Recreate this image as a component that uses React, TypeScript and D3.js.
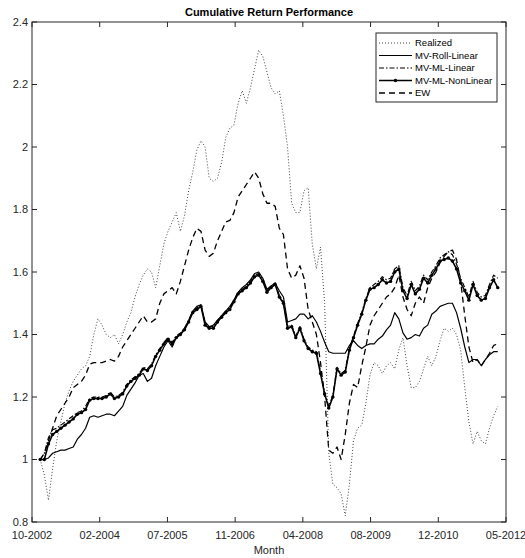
import React from 'react';
import * as d3 from 'd3';

// x axis: months after 10-2002 (0 .. 115 = 05-2012)
const xTickLabels = ['10-2002', '02-2004', '07-2005', '11-2006', '04-2008', '08-2009', '12-2010', '05-2012'];
const yTicks = [0.8, 1, 1.2, 1.4, 1.6, 1.8, 2, 2.2, 2.4];
const firstMonth = 2; // 12-2002
const lastAxisMonth = 115;

const realized = [
  1.0, 0.95, 0.87, 0.97, 1.06, 1.12, 1.18, 1.22, 1.25, 1.27,
  1.29, 1.3, 1.33, 1.4, 1.45, 1.43, 1.4, 1.39, 1.4, 1.37,
  1.4, 1.44, 1.47, 1.52, 1.56, 1.59, 1.61, 1.6, 1.55, 1.62,
  1.69, 1.73, 1.76, 1.79, 1.73, 1.78, 1.86, 1.92, 1.99, 2.02,
  2.0, 1.9, 1.89, 1.9, 1.95, 2.03, 2.06, 2.07, 2.14, 2.18,
  2.14, 2.19, 2.25, 2.31, 2.29, 2.24, 2.19, 2.17, 2.18, 2.1,
  2.0, 1.82, 1.79, 1.79, 1.86, 1.87, 1.69, 1.61, 1.68, 1.5,
  1.02, 0.92, 0.91, 0.89, 0.82, 0.92, 1.06, 1.1, 1.11, 1.18,
  1.27, 1.31, 1.3, 1.275, 1.3, 1.31, 1.29, 1.35, 1.39, 1.3,
  1.23, 1.23, 1.25, 1.29, 1.33, 1.3, 1.33, 1.38, 1.42, 1.41,
  1.42, 1.4, 1.35, 1.23, 1.12, 1.05, 1.09, 1.06, 1.05, 1.1,
  1.14, 1.17,
];

const mvRollLinear = [
  1.0, 1.0, 1.005, 1.02, 1.025, 1.03, 1.03, 1.035, 1.04, 1.065,
  1.08, 1.1, 1.135, 1.14, 1.135, 1.14, 1.145, 1.145, 1.14, 1.155,
  1.17, 1.205, 1.225, 1.245, 1.27, 1.275, 1.25, 1.26, 1.3, 1.33,
  1.36, 1.38, 1.36, 1.39, 1.4, 1.42, 1.445, 1.475, 1.49, 1.495,
  1.44, 1.425, 1.43, 1.445, 1.46, 1.475, 1.49, 1.51, 1.535, 1.55,
  1.56, 1.575, 1.595, 1.6, 1.58, 1.545, 1.555, 1.565, 1.54, 1.52,
  1.44, 1.445, 1.45, 1.465, 1.465, 1.45, 1.46, 1.44, 1.41, 1.375,
  1.345, 1.34, 1.34, 1.34, 1.34, 1.365, 1.38, 1.365, 1.355, 1.365,
  1.37, 1.37, 1.385, 1.395, 1.415, 1.43, 1.47, 1.45, 1.405, 1.385,
  1.39, 1.4, 1.395, 1.42, 1.43, 1.465, 1.475, 1.49, 1.495, 1.5,
  1.5, 1.47, 1.42, 1.36, 1.31, 1.32, 1.32, 1.3, 1.32, 1.335,
  1.345, 1.345,
];

const mvMlLinear = [
  1.0, 1.02, 1.07, 1.095, 1.1, 1.11, 1.12, 1.13, 1.14, 1.15,
  1.155, 1.17, 1.195, 1.2, 1.2, 1.2, 1.205, 1.215, 1.2, 1.205,
  1.215, 1.24, 1.255, 1.265, 1.275, 1.295, 1.29, 1.305, 1.335, 1.355,
  1.375, 1.39, 1.375, 1.395, 1.405, 1.42, 1.445, 1.475, 1.485, 1.495,
  1.435, 1.425, 1.425, 1.445, 1.46, 1.475, 1.485, 1.51, 1.535, 1.545,
  1.555, 1.57, 1.59, 1.595, 1.575, 1.54, 1.555, 1.565, 1.525, 1.505,
  1.425, 1.43, 1.395, 1.425, 1.385, 1.36, 1.35, 1.345, 1.28, 1.215,
  1.17, 1.205, 1.295, 1.275, 1.285, 1.355, 1.395, 1.435, 1.47, 1.515,
  1.55, 1.56, 1.57, 1.585, 1.575, 1.58, 1.61, 1.62, 1.55, 1.525,
  1.57, 1.54, 1.555, 1.59, 1.575, 1.6, 1.62, 1.645, 1.655, 1.665,
  1.655, 1.625, 1.58, 1.55, 1.52, 1.57, 1.535, 1.52, 1.525, 1.56,
  1.59, 1.58,
];

const mvMlNonLinear = [
  1.0, 1.0, 1.05, 1.08, 1.09, 1.1, 1.11, 1.12, 1.13, 1.145,
  1.15, 1.16, 1.19, 1.195, 1.195, 1.195, 1.2, 1.21, 1.195, 1.2,
  1.21, 1.235, 1.25, 1.26, 1.27, 1.29, 1.285, 1.3, 1.33, 1.35,
  1.37, 1.385, 1.37, 1.39, 1.4, 1.415, 1.44, 1.47, 1.48, 1.49,
  1.43, 1.42, 1.42, 1.44, 1.455, 1.47, 1.48, 1.505, 1.53, 1.54,
  1.55, 1.565, 1.585, 1.59, 1.57, 1.535, 1.55, 1.56, 1.52, 1.5,
  1.42, 1.425, 1.39, 1.42, 1.38, 1.355, 1.345, 1.34, 1.275, 1.21,
  1.165, 1.2, 1.29, 1.27, 1.28, 1.35, 1.39, 1.43, 1.465, 1.51,
  1.545, 1.55, 1.56, 1.575, 1.565, 1.57, 1.6, 1.61, 1.54, 1.515,
  1.56, 1.53, 1.545, 1.58, 1.565, 1.59, 1.61, 1.635, 1.64, 1.645,
  1.635, 1.61, 1.565, 1.54, 1.51, 1.56, 1.525, 1.51, 1.515, 1.55,
  1.575, 1.55,
];

const ew = [
  1.0, 1.02, 1.06, 1.1, 1.14, 1.16, 1.18, 1.2, 1.23, 1.24,
  1.25, 1.27, 1.305, 1.31, 1.31, 1.31, 1.315, 1.32, 1.315, 1.33,
  1.36, 1.38, 1.4, 1.42, 1.44, 1.46, 1.44, 1.44, 1.45, 1.5,
  1.53, 1.54, 1.55, 1.53, 1.57, 1.62, 1.67, 1.71, 1.74, 1.73,
  1.67, 1.65, 1.66, 1.7, 1.73, 1.76, 1.765, 1.79, 1.84, 1.86,
  1.88, 1.9, 1.92, 1.9, 1.85, 1.82, 1.82, 1.81, 1.74, 1.72,
  1.61, 1.58, 1.59, 1.62, 1.58, 1.48, 1.44, 1.4, 1.31, 1.2,
  1.03, 1.02, 1.04, 1.0, 1.08, 1.18, 1.24, 1.23, 1.3, 1.36,
  1.43, 1.46, 1.48, 1.5, 1.52, 1.53, 1.55, 1.59, 1.52, 1.48,
  1.46, 1.5, 1.52, 1.5, 1.55, 1.58, 1.6, 1.63, 1.65, 1.665,
  1.67, 1.64, 1.57, 1.46, 1.36, 1.31, 1.32, 1.3, 1.32, 1.34,
  1.365, 1.37,
];

const seriesNames = ['Realized', 'MV-Roll-Linear', 'MV-ML-Linear', 'MV-ML-NonLinear', 'EW'];

const W = 525;
const H = 558;
const L = 32, R = 506, T = 22, B = 522;
const FONT = '"Liberation Sans", Arial, Helvetica, sans-serif';
const AX = '#262626';

export default function App() {
  const x = d3.scaleLinear().domain([0, lastAxisMonth]).range([L, R]);
  const y = d3.scaleLinear().domain([0.8, 2.4]).range([B, T]);
  const xTicks = xTickLabels.map((_, i) => (lastAxisMonth / (xTickLabels.length - 1)) * i);

  const line = d3
    .line<number>()
    .x((_, i) => x(firstMonth + i))
    .y((d) => y(d));

  const styles = [
    { data: realized, stroke: '#444', width: 1, dash: '1 2', marker: false },
    { data: mvRollLinear, stroke: '#000', width: 1.2, dash: undefined, marker: false },
    { data: mvMlLinear, stroke: '#000', width: 1.2, dash: '5 2 1.5 2', marker: false },
    { data: mvMlNonLinear, stroke: '#000', width: 1.6, dash: undefined, marker: true },
    { data: ew, stroke: '#000', width: 1.3, dash: '6 4', marker: false },
  ];

  const legX0 = 376, legY0 = 33, legW = 121, legH = 69;
  const legRowY = (k: number) => legY0 + 10 + k * 12.5;

  return (
    <svg
      width={W}
      height={H}
      style={{ position: 'absolute', left: 0, top: 0, background: '#fff' }}
      fontFamily={FONT}
    >
      <rect x={0} y={0} width={W} height={H} fill="#fff" />
      {/* plot frame */}
      <rect x={L} y={T} width={R - L} height={B - T} fill="#fff" stroke="none" />

      {/* series */}
      <g>
        {styles.map((s, k) => (
          <path
            key={k}
            d={line(s.data) || ''}
            fill="none"
            stroke={s.stroke}
            strokeWidth={s.width}
            strokeDasharray={s.dash}
            strokeLinejoin="round"
          />
        ))}
        {mvMlNonLinear.map((v, i) => (
          <circle key={'m' + i} cx={x(firstMonth + i)} cy={y(v)} r={1.7} fill="#000" />
        ))}
      </g>

      {/* axes box */}
      <rect x={L} y={T} width={R - L} height={B - T} fill="none" stroke={AX} strokeWidth={1} />
      {xTicks.map((t, i) => (
        <g key={'xt' + i}>
          <line x1={x(t)} x2={x(t)} y1={B} y2={B - 5} stroke={AX} />
          <line x1={x(t)} x2={x(t)} y1={T} y2={T + 5} stroke={AX} />
          <text x={x(t)} y={539} textAnchor="middle" fontSize={11} fill={AX}>
            {xTickLabels[i]}
          </text>
        </g>
      ))}
      {yTicks.map((t, i) => (
        <g key={'yt' + i}>
          <line x1={L} x2={L + 5} y1={y(t)} y2={y(t)} stroke={AX} />
          <line x1={R} x2={R - 5} y1={y(t)} y2={y(t)} stroke={AX} />
          <text x={28} y={y(t)} dy="0.35em" textAnchor="end" fontSize={11} fill={AX}>
            {String(t)}
          </text>
        </g>
      ))}
      <text x={(L + R) / 2} y={554} textAnchor="middle" fontSize={11} fill={AX}>
        Month
      </text>
      <text x={(L + R) / 2} y={16} textAnchor="middle" fontSize={11} fontWeight="bold" fill="#000">
        Cumulative Return Performance
      </text>

      {/* legend */}
      <rect x={legX0} y={legY0} width={legW} height={legH} fill="#fff" stroke={AX} strokeWidth={1} />
      {styles.map((s, k) => (
        <g key={'lg' + k}>
          <line
            x1={379}
            x2={412}
            y1={legRowY(k)}
            y2={legRowY(k)}
            stroke={s.stroke}
            strokeWidth={s.width}
            strokeDasharray={s.dash}
          />
          {s.marker && <circle cx={395.5} cy={legRowY(k)} r={1.7} fill="#000" />}
          <text x={415} y={legRowY(k)} dy="0.35em" fontSize={9.5} fill="#000">
            {seriesNames[k]}
          </text>
        </g>
      ))}
    </svg>
  );
}
